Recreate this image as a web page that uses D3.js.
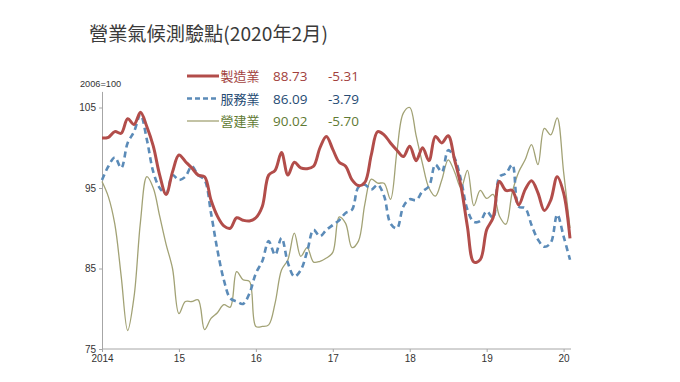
<!DOCTYPE html>
<html>
<head>
<meta charset="utf-8">
<script src="https://cdn.jsdelivr.net/npm/d3@7"></script>
<style>
html,body{margin:0;padding:0;background:#fff;}
svg{display:block;font-family:"Liberation Sans",Arial,sans-serif;}
</style>
</head>
<body>
<svg id="chart" width="680" height="382"></svg>
<script>
// ---- data (monthly, Jan 2014 – Feb 2020) ----
const yearLabels = ["2014","15","16","17","18","19","20"];
const yTicks = [75, 85, 95, 105];
const seriesNames = ["製造業","服務業","營建業"];
const latestValues = ["88.73","86.09","90.02"];
const latestChanges = ["-5.31","-3.79","-5.70"];

const manufacturing = [
 101.2,101.3,102.0,101.8,103.6,102.9,104.4,102.6,100.2,96.6,94.2,97.0,
 99.1,98.3,97.5,96.6,96.4,93.5,91.5,90.3,90.0,91.3,91.0,90.9,
 91.3,92.7,96.6,97.2,99.4,96.6,98.2,97.5,97.4,97.7,100.0,101.4,
 99.8,98.2,97.7,96.0,95.3,95.7,99.1,102.0,101.6,100.6,99.7,98.9,
 100.2,98.4,100.0,98.4,101.4,100.6,101.5,98.5,95.2,90.2,85.8,86.1,
 89.8,91.3,95.8,94.7,94.7,92.9,94.8,95.9,94.4,92.2,93.5,96.4,
 94.4,88.73
];
const services = [
 96.0,97.7,98.8,97.5,100.6,102.0,104.1,101.0,97.0,95.0,94.3,96.6,
 96.0,96.4,97.7,96.6,96.0,91.9,87.3,83.6,81.3,80.9,80.6,81.9,
 84.4,85.9,88.4,86.7,88.8,85.7,84.0,84.8,87.1,89.8,89.0,89.8,
 90.4,91.0,91.9,92.3,95.1,95.4,94.8,95.4,94.0,90.6,90.0,92.7,
 93.6,93.5,94.6,95.2,97.9,97.0,99.7,98.7,96.0,92.3,90.8,90.9,
 92.1,91.3,96.4,96.8,97.9,92.7,92.5,90.4,88.6,87.7,88.2,91.7,
 89.0,86.09
];
const construction = [
 95.8,93.9,90.5,84.0,77.3,81.5,90.8,96.4,95.0,91.5,88.0,85.0,
 79.4,80.9,80.9,81.1,77.4,78.8,79.5,80.5,80.2,84.6,83.6,83.4,
 77.8,77.8,78.0,80.7,84.8,86.1,89.4,86.5,87.6,85.8,85.9,86.3,
 87.0,91.4,90.6,87.6,88.4,93.0,96.1,95.6,95.6,93.6,99.5,104.3,
 105.0,101.5,98.0,95.0,94.0,96.0,98.5,97.0,95.0,97.2,92.8,94.7,
 93.7,94.2,91.5,90.5,94.5,97.0,98.5,100.4,97.9,102.4,101.6,103.7,
 97.0,90.02
];

const svg = d3.select("#chart");

// title
svg.append("text")
  .attr("x", 89).attr("y", 41)
  .attr("font-family", "'Noto Sans CJK TC','Noto Sans',sans-serif")
  .attr("font-size", 19.2)
  .attr("fill", "#3a3a3a")
  .text("營業氣候測驗點(2020年2月)");

// scales
const x = d3.scaleLinear().domain([0, manufacturing.length - 1]).range([102, 570]);
const y = d3.scaleLinear().domain([75, 107]).range([349, 349 - 32 * 8.05]);

// y axis
const yAxis = svg.append("g")
  .attr("transform", "translate(102,0)")
  .call(d3.axisLeft(y).tickValues(yTicks).tickSize(3).tickPadding(3).tickSizeOuter(0));
yAxis.select(".domain").attr("stroke", "#a6a6a6");
yAxis.selectAll(".tick line").attr("stroke", "#a6a6a6");
yAxis.selectAll(".tick text").attr("font-size", 10).attr("fill", "#333");

// x axis
const xAxis = svg.append("g")
  .attr("transform", "translate(0,349)")
  .call(d3.axisBottom(x)
    .tickValues(yearLabels.map((d, i) => i * 12))
    .tickFormat((d, i) => yearLabels[i])
    .tickSize(3).tickPadding(3).tickSizeOuter(0));
xAxis.select(".domain").attr("stroke", "#a6a6a6").attr("d", "M102,0H571");
xAxis.selectAll(".tick line").attr("stroke", "#a6a6a6");
xAxis.selectAll(".tick text").attr("font-size", 10).attr("fill", "#333");

// unit label
svg.append("text")
  .attr("x", 80).attr("y", 86.5)
  .attr("font-size", 9.2).attr("fill", "#333")
  .text("2006=100");

// lines
const line = d3.line()
  .x((d, i) => x(i))
  .y(d => y(d))
  .curve(d3.curveCatmullRom.alpha(0.5));

const styles = [
  {data: construction, stroke: "#a2a275", width: 1.3, dash: null},
  {data: services, stroke: "#5b8bb8", width: 2.6, dash: "6,4"},
  {data: manufacturing, stroke: "#b24d4a", width: 3, dash: null}
];
styles.forEach(s => {
  svg.append("path")
    .datum(s.data)
    .attr("fill", "none")
    .attr("stroke", s.stroke)
    .attr("stroke-width", s.width)
    .attr("stroke-dasharray", s.dash)
    .attr("stroke-linejoin", "round")
    .attr("d", line);
});

// legend
const legendStyles = [
  {stroke: "#b24d4a", width: 3, dash: null, text: "#a23f3d"},
  {stroke: "#5b8bb8", width: 2.6, dash: "5,3", text: "#264b73"},
  {stroke: "#a2a275", width: 1.3, dash: null, text: "#5f7a33"}
];
const rowY = [76, 98.5, 121];
seriesNames.forEach((name, i) => {
  const st = legendStyles[i];
  svg.append("line")
    .attr("x1", 187).attr("x2", 219)
    .attr("y1", rowY[i]).attr("y2", rowY[i])
    .attr("stroke", st.stroke).attr("stroke-width", st.width)
    .attr("stroke-dasharray", st.dash);
  svg.append("text")
    .attr("x", 220.5).attr("y", rowY[i] + 5)
    .attr("font-family", "'Noto Sans CJK TC','Noto Sans',sans-serif")
    .attr("font-size", 13).attr("fill", st.text)
    .text(name);
  svg.append("text")
    .attr("x", 273).attr("y", rowY[i] + 5)
    .attr("font-family", "'Open Sans','Noto Sans',sans-serif")
    .attr("font-size", 13.5).attr("fill", st.text)
    .text(latestValues[i]);
  svg.append("text")
    .attr("x", 328).attr("y", rowY[i] + 5)
    .attr("font-family", "'Open Sans','Noto Sans',sans-serif")
    .attr("font-size", 13.5).attr("fill", st.text)
    .text(latestChanges[i]);
});
</script>
</body>
</html>
